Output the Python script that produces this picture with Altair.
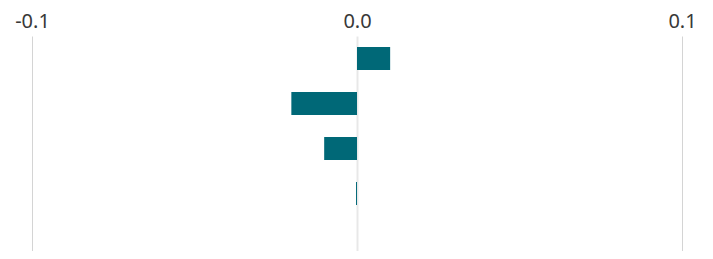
import altair as alt
import pandas as pd

categories = ["A", "B", "C", "D"]
values = [0.0102, -0.0202, -0.0101, -0.0003]
ticks = [-0.1, 0.0, 0.1]

df = pd.DataFrame({"cat": categories, "val": values})

chart = alt.Chart(df).mark_bar(color="#006877").encode(
    x=alt.X("val:Q",
            scale=alt.Scale(domain=[-0.1, 0.1], nice=False, zero=False),
            axis=alt.Axis(orient="top", values=ticks, title=None,
                          labelExpr="datum.value < 0 ? '-' + format(-datum.value, '.1f') : format(datum.value, '.1f')",
                          domain=False, ticks=False, tickSize=0, labelPadding=9,
                          labelBaseline="alphabetic",
                          labelFont="Noto Sans", labelFontSize=20, labelColor="#383838",
                          labelFlush=False,
                          grid=True,
                          gridColor={"condition": {"test": "datum.value === 0", "value": "#e8e8e8"}, "value": "#d4d4d4"},
                          gridWidth={"condition": {"test": "datum.value === 0", "value": 2}, "value": 1})),
    y=alt.Y("cat:N", sort=None, axis=None,
            scale=alt.Scale(paddingInner=22/45, paddingOuter=0.6333, align=0.193, round=False)),
).properties(
    width=650, height=215,
    autosize=alt.AutoSizeParams(type="none"),
    padding={"left": 24, "top": 28, "right": 23, "bottom": 0},
).configure_view(stroke=None)

chart.save("out.html", embed_options={"renderer": "svg", "actions": False})
